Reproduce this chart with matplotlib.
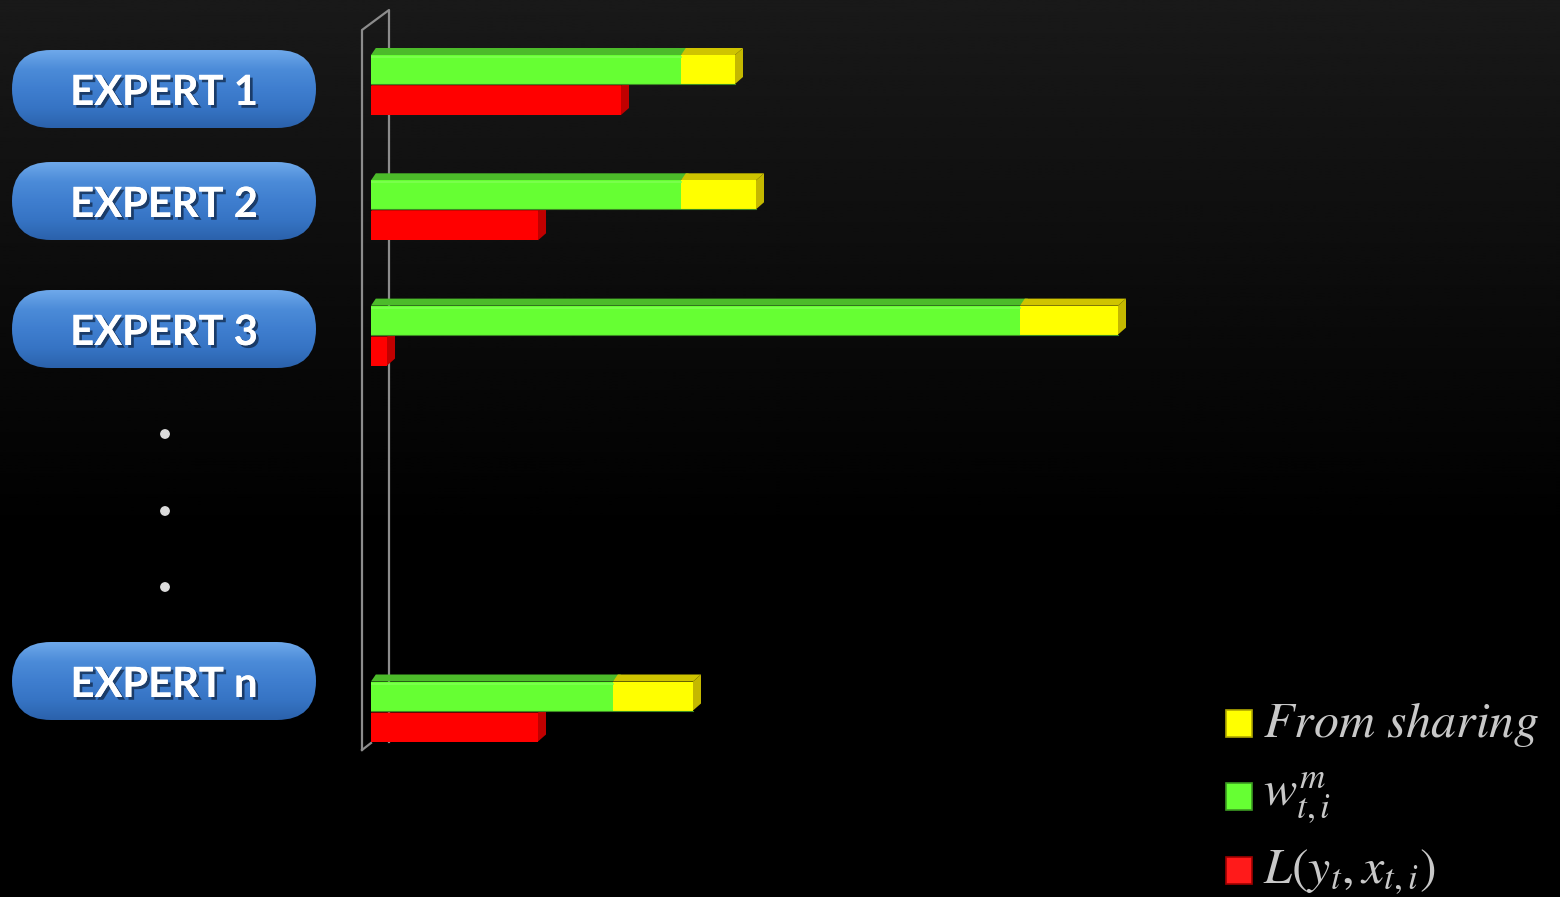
import numpy as np
import matplotlib
matplotlib.use("Agg")
import matplotlib.pyplot as plt
from matplotlib.patches import FancyBboxPatch, Polygon, Rectangle, Circle
import matplotlib.patheffects as pe

# ---- data -------------------------------------------------------------
experts = ["EXPERT 1", "EXPERT 2", "EXPERT 3", "EXPERT n"]
slots = [0, 1, 2, 5]                 # rows 3 and 4 stand for the elided experts
weight = [3.10, 3.10, 6.49, 2.42]    # w_{t,i}^m
shared = [0.54, 0.75, 0.98, 0.80]    # from sharing
loss = [2.50, 1.67, 0.16, 1.67]      # L(y_t, x_{t,i})
legend_labels = [r"$From\ sharing$", r"$w_{t,i}^{m}$", r"$L\left(y_t,x_{t,i}\right)$"]

plt.rcParams["mathtext.fontset"] = "stix"

W, H = 1560, 897
fig = plt.figure(figsize=(W / 100, H / 100), dpi=100)
fig.patch.set_facecolor("black")

# background gradient
bg = fig.add_axes([0, 0, 1, 1])
bg.set_axis_off()
rows = np.linspace(0, 1, 300)
shade = np.clip(0.10 * (1 - rows / 0.6), 0, None)
bg.imshow(np.repeat(shade[:, None], 2, axis=1), cmap="gray", vmin=0, vmax=1,
          aspect="auto", extent=[0, 1, 1, 0], zorder=0)
bg.set_xlim(0, 1)
bg.set_ylim(1, 0)

# overlay in pixel units for the labels and the chart wall
ov = fig.add_axes([0, 0, 1, 1])
ov.set_xlim(0, W)
ov.set_ylim(H, 0)
ov.set_axis_off()
ov.patch.set_alpha(0)

# ---- bar axes -------------------------------------------------------------
x0_px = 371
ax = fig.add_axes([x0_px / W, 0, (W - x0_px) / W, 1])
ax.patch.set_alpha(0)
ax.set_axis_off()
px_x = 100.0     # pixels per x unit
px_y = 125.3     # pixels per row
ax.set_xlim(0, (W - x0_px) / px_x)
ax.set_ylim((H - 85) / px_y, -85 / px_y)

off = 15.5 / px_y
bh = 29 / px_y
dx = 8 / px_x
dy = 7 / px_y

slots_a = np.array(slots, float)
weight_a = np.array(weight)
shared_a = np.array(shared)
loss_a = np.array(loss)

def box3d(y, left, width, top, side, z, draw_side=True):
    y_top = y - bh / 2
    y_bot = y + bh / 2
    right = left + width
    ax.add_patch(Polygon([(left, y_top), (right, y_top), (right + dx, y_top - dy),
                          (left + dx * 0.6, y_top - dy)],
                         closed=True, facecolor=top, edgecolor="none", zorder=z))
    if draw_side:
        ax.add_patch(Polygon([(right, y_top), (right + dx, y_top - dy),
                              (right + dx, y_bot - dy), (right, y_bot)],
                             closed=True, facecolor=side, edgecolor="none", zorder=z))

# loss bars (drawn first, sit below the weight bars)
for y, v in zip(slots_a + off, loss_a):
    box3d(y, 0, v, "#d00000", "#c00000", 2)
ax.barh(slots_a + off, loss_a, height=bh, color="#ff0000", edgecolor="none", zorder=2.5)

for y, g, s in zip(slots_a - off, weight_a, shared_a):
    box3d(y, 0, g, "#4cbb2a", "#4cbb2a", 3, draw_side=False)
    box3d(y, g, s, "#cfc400", "#c4b800", 3)
ax.barh(slots_a - off, weight_a, height=bh, color="#66ff33", edgecolor="none", zorder=3.5)
ax.barh(slots_a - off, shared_a, left=weight_a, height=bh, color="#ffff00",
        edgecolor="none", zorder=3.5)
# thin highlight along the top of the front faces
for y, g, s in zip(slots_a - off, weight_a, shared_a):
    ax.plot([0, g], [y - bh / 2 + 2 / px_y] * 2, color="#7dff50", lw=1.2, zorder=3.6)
    ax.plot([0, g + s], [y + bh / 2] * 2, color="#3c8a22", lw=0.8, zorder=3.6)

# chart wall
wall = "#8c8c8c"
ov.plot([362, 362, 389, 389], [750, 30, 10, 742], color=wall, lw=1.6, zorder=1)
ov.plot([362, 371], [750, 743], color=wall, lw=1.6, zorder=1)

# ---- expert buttons ---------------------------------------------------------
centers = [89, 201, 329, 681]
grad = np.linspace(0, 1, 100)[:, None]
blue = matplotlib.colors.LinearSegmentedColormap.from_list(
    "btn", ["#6ea8ea", "#4b8bd8", "#3f7ecf", "#3674c4", "#2b62ac"])
for name, cy in zip(experts, centers):
    box = FancyBboxPatch((12, cy - 39), 304, 78,
                         boxstyle="round,pad=0,rounding_size=39",
                         facecolor="none", edgecolor="none",
                         transform=ov.transData)
    ov.add_patch(box)
    im = ov.imshow(np.repeat(grad, 2, axis=1), cmap=blue, aspect="auto",
                   extent=[12, 316, cy + 39, cy - 39], zorder=2)
    im.set_clip_path(box)
    ov.text(164, cy + 16, name, ha="center", va="baseline", color="white",
            fontsize=30, fontfamily="Lato", fontweight="bold", zorder=3,
            path_effects=[pe.withSimplePatchShadow(offset=(2, -2),
                                                   shadow_rgbFace="#0d2240", alpha=0.7),
                          pe.Normal()])
ov.set_xlim(0, W)
ov.set_ylim(H, 0)

for yy in (434, 511, 587):
    ov.add_patch(Circle((165, yy), 4.2, color="#dcdcdc", zorder=3))

# ---- legend ---------------------------------------------------------------
leg_colors = [("#ffff00", "#b0a800"), ("#66ff33", "#3c9a22"), ("#ff1a1a", "#a00000")]
leg_tops = [710, 783, 857]
leg_text_y = [737, 806, 884]
for (fc, ec), top, ty, lab in zip(leg_colors, leg_tops, leg_text_y, legend_labels):
    ov.add_patch(Rectangle((1226, top), 26, 27, facecolor=fc, edgecolor=ec,
                           lw=1.2, zorder=3))
    ov.text(1263, ty, lab, ha="left", va="baseline", color="#c8c8c8",
            fontsize=36, zorder=3)

fig.savefig("out.png", dpi=100, facecolor=fig.get_facecolor())
